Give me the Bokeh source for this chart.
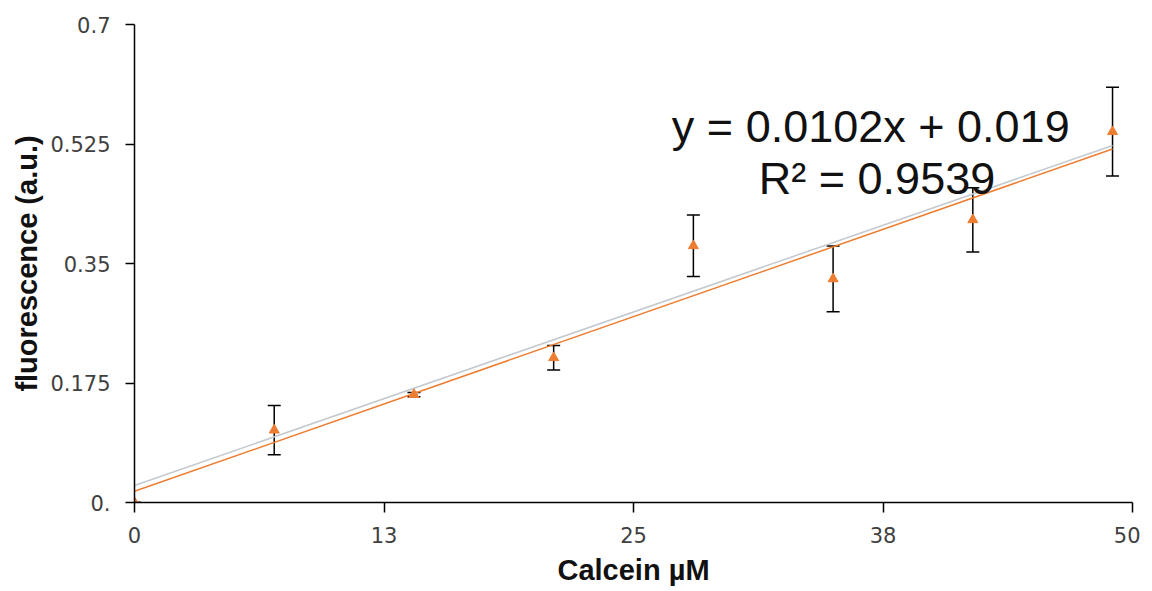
import numpy as np
from bokeh.plotting import figure
from bokeh.models import ColumnDataSource, Whisker, TeeHead, FixedTicker, Label, Range1d
from bokeh.embed import file_html
from bokeh.resources import INLINE

# ---- data ----
calcein = [0, 7, 14, 21, 28, 35, 42, 49]
fluor = [0.0, 0.106, 0.158, 0.212, 0.376, 0.3275, 0.414, 0.543]
err = [0.0, 0.036, 0.003, 0.018, 0.045, 0.048, 0.047, 0.065]

x_ticks = [0, 12.5, 25, 37.5, 50]
x_tick_labels = ["0", "13", "25", "38", "50"]
y_ticks = [0, 0.175, 0.35, 0.525, 0.7]
y_tick_labels = ["0.", "0.175", "0.35", "0.525", "0.7"]

# second (grey) trend line parameters
grey_slope, grey_intercept = 0.01016, 0.025

eq_text = "y = 0.0102x  + 0.019"
r2_text = "R² = 0.9539"

# ---- figure ----
W, H = 1140, 591
p = figure(width=W, height=H, output_backend="svg", toolbar_location=None,
           x_range=Range1d(0, 50), y_range=Range1d(0, 0.7),
           min_border_left=134, min_border_right=8, min_border_top=24, min_border_bottom=89)
p.outline_line_color = None
p.xgrid.visible = False
p.ygrid.visible = False
p.background_fill_color = "white"
p.border_fill_color = "white"

xs = np.array(calcein, dtype=float)
ys = np.array(fluor, dtype=float)
es = np.array(err, dtype=float)
slope, intercept = np.polyfit(xs, ys, 1)
xl = np.array([xs.min(), xs.max()])

p.line(xl, grey_slope * xl + grey_intercept, line_color="#c3c9cf", line_width=1.5)
p.line(xl, slope * xl + intercept, line_color="#ED7D31", line_width=1.5)

src = ColumnDataSource(dict(x=xs, y=ys, upper=ys + es, lower=ys - es))
wh = Whisker(source=src, base="x", upper="upper", lower="lower", line_color="black", line_width=1.5,
             upper_head=TeeHead(size=13, line_color="black", line_width=1.5),
             lower_head=TeeHead(size=13, line_color="black", line_width=1.5))
p.add_layout(wh)
p.scatter("x", "y", source=src, marker="triangle", size=10, fill_color="#ED7D31",
          line_color="#ED7D31")

# axes
for ax in (p.xaxis[0], p.yaxis[0]):
    ax.axis_line_color = "black"
    ax.axis_line_width = 1.5
    ax.major_tick_line_color = "black"
    ax.major_tick_line_width = 1.5
    ax.major_tick_out = 10
    ax.major_tick_in = 0
    ax.minor_tick_line_color = None
    ax.major_label_text_font = "DejaVu Sans"
    ax.major_label_text_font_size = "21px"
    ax.major_label_text_color = "#404040"
    ax.axis_label_text_font = "Liberation Sans"
    ax.axis_label_text_font_style = "bold"
    ax.axis_label_text_font_size = "29px"
    ax.axis_label_text_color = "#111111"

p.yaxis.major_tick_out = 9
p.xaxis.ticker = FixedTicker(ticks=x_ticks)
p.xaxis.major_label_overrides = dict(zip(x_ticks, x_tick_labels))
p.yaxis.ticker = FixedTicker(ticks=y_ticks)
p.yaxis.major_label_overrides = dict(zip(y_ticks, y_tick_labels))
p.xaxis.axis_label = "Calcein µM"
p.yaxis.axis_label = "fluorescence (a.u.)"
p.xaxis.major_label_standoff = 14
p.yaxis.major_label_standoff = 15
p.xaxis.axis_label_standoff = 8
p.yaxis.axis_label_standoff = 4

p.add_layout(Label(x=37.2, y=0.55, text=eq_text, text_align="center", text_baseline="middle",
                   text_font="Liberation Sans", text_font_size="45px", text_color="#111111"))
p.add_layout(Label(x=37.2, y=0.474, text=r2_text, text_align="center", text_baseline="middle",
                   text_font="Liberation Sans", text_font_size="45px", text_color="#111111"))

open("out.html", "w").write(file_html(p, INLINE))
